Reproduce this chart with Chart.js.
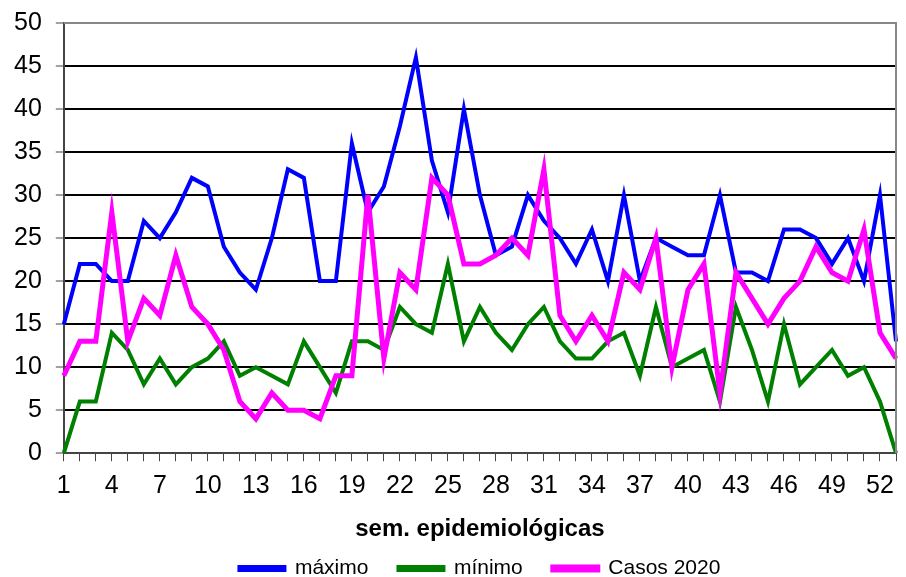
<!DOCTYPE html>
<html>
<head>
<meta charset="utf-8">
<script src="https://cdn.jsdelivr.net/npm/chart.js@4"></script>
<style>
  html, body { margin: 0; padding: 0; background: #fff; }
  #wrap { width: 906px; height: 577px; }
</style>
</head>
<body>
<div id="wrap"><canvas id="grafico"></canvas></div>
<script>
// semanas epidemiológicas 1..53
const semanas = [];
for (let s = 1; s <= 53; s++) semanas.push(String(s));

const maximo = [15, 22, 22, 20, 20, 27, 25, 28, 32, 31, 24, 21, 19, 25, 33, 32, 20, 20, 36, 28,
    31, 38, 46, 34, 28, 40, 30, 23, 24, 30, 27, 25, 22, 26, 20, 30, 20, 25, 24, 23,
    23, 30, 21, 21, 20, 26, 26, 25, 22, 25, 20, 30, 13];
const minimo = [0, 6, 6, 14, 12, 8, 11, 8, 10, 11, 13, 9, 10, 9, 8, 13, 10, 7, 13, 13,
    12, 17, 15, 14, 22, 13, 17, 14, 12, 15, 17, 13, 11, 11, 13, 14, 9, 17, 10, 11,
    12, 6, 17, 12, 6, 15, 8, 10, 12, 9, 10, 6, 0];
const casos2020 = [9, 13, 13, 28, 13, 18, 16, 23, 17, 15, 12, 6, 4, 7, 5, 5, 4, 9, 9, 30,
    11, 21, 19, 32, 30, 22, 22, 23, 25, 23, 33, 16, 13, 16, 13, 21, 19, 25, 10, 19,
    22, 7, 21, 18, 15, 18, 20, 24, 21, 20, 26, 14, 11];

const fuente = 'Liberation Sans, Arial, sans-serif';

// borde gris arriba y a la derecha del área
const bordeArea = {
    id: 'bordeArea',
    afterDraw(chart) {
        const { ctx, chartArea: a } = chart;
        ctx.save();
        ctx.strokeStyle = '#888888';
        ctx.lineWidth = 2;
        ctx.beginPath();
        ctx.moveTo(a.left, a.top);
        ctx.lineTo(a.right, a.top);
        ctx.lineTo(a.right, a.bottom);
        ctx.stroke();
        ctx.restore();
    }
};

const ctx = document.getElementById('grafico').getContext('2d');
new Chart(ctx, {
    type: 'line',
    data: {
        labels: semanas,
        datasets: [
            { label: 'máximo', data: maximo, borderColor: '#0000FF', backgroundColor: '#0000FF', borderWidth: 4, order: 2 },
            { label: 'mínimo', data: minimo, borderColor: '#008000', backgroundColor: '#008000', borderWidth: 4, order: 1 },
            { label: 'Casos 2020', data: casos2020, borderColor: '#FF00FF', backgroundColor: '#FF00FF', borderWidth: 5, order: 0 }
        ]
    },
    options: {
        responsive: true,
        maintainAspectRatio: false,
        animation: false,
        elements: {
            point: { radius: 0 },
            line: { tension: 0, borderJoinStyle: 'miter' }
        },
        layout: { padding: { left: 0, right: 2, top: 0, bottom: -12 } },
        plugins: {
            tooltip: { enabled: false },
            legend: {
                position: 'bottom',
                fullSize: false,
                labels: {
                    font: { family: fuente, size: 21 },
                    color: '#000',
                    boxWidth: 45,
                    boxHeight: 3,
                    padding: 30,
                    sort: (a, b) => a.datasetIndex - b.datasetIndex
                }
            }
        },
        scales: {
            x: {
                offset: false,
                grid: {
                    drawOnChartArea: false,
                    drawTicks: true,
                    tickLength: 8,
                    color: '#444444'
                },
                border: { color: '#444444', width: 2 },
                ticks: {
                    autoSkip: false,
                    maxRotation: 0,
                    padding: 10,
                    color: '#000',
                    font: { family: fuente, size: 25 },
                    callback: function (val, idx) {
                        return idx % 3 === 0 ? this.getLabelForValue(val) : '';
                    }
                },
                title: {
                    display: true,
                    text: 'sem. epidemiológicas',
                    color: '#000',
                    font: { family: fuente, size: 24, weight: 'bold' },
                    padding: { top: 4, bottom: -16 }
                }
            },
            y: {
                min: 0,
                max: 50,
                ticks: {
                    stepSize: 5,
                    padding: 14,
                    color: '#000',
                    font: { family: fuente, size: 25, lineHeight: 0.72 }
                },
                grid: {
                    color: '#000000',
                    lineWidth: 2,
                    tickLength: 8,
                    tickColor: '#444444',
                    tickWidth: 1
                },
                border: { color: '#444444', width: 2 }
            }
        }
    },
    plugins: [bordeArea]
});
</script>
</body>
</html>
